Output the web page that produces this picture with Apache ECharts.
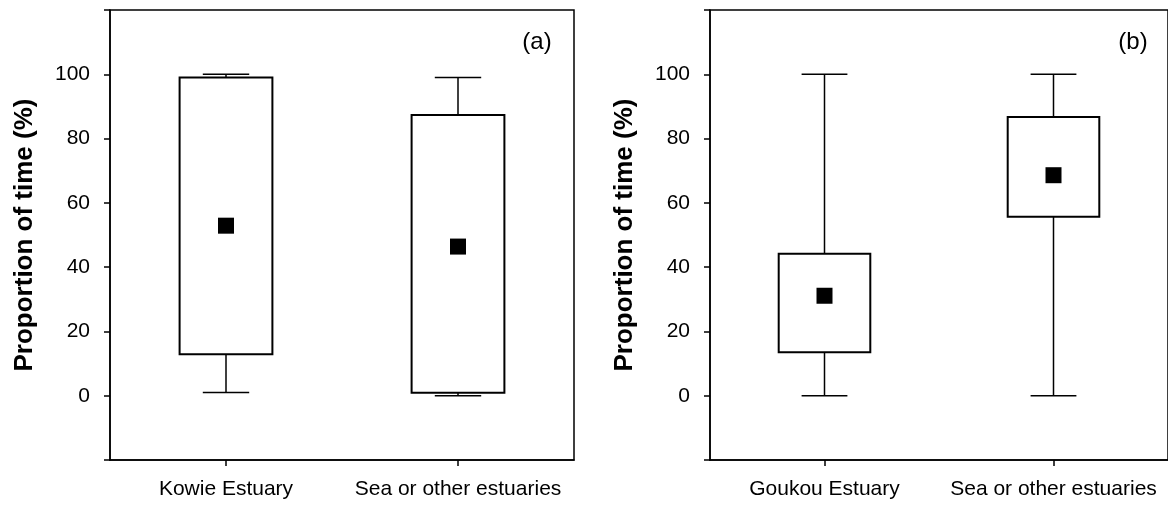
<!DOCTYPE html>
<html lang="en">
<head>
  <meta http-equiv="Content-Type" content="text/html; charset=UTF-8">
  <title>Proportion of time</title>
  <style>
    html, body { margin: 0; padding: 0; background: #fff; }
  </style>
</head>
<body>
  <div id="chart" style="width: 1168px; height: 505px;"></div>
  <script src="https://cdn.jsdelivr.net/npm/echarts@6/dist/echarts.min.js"></script>
  <script>
    const categoriesA = ['Kowie Estuary', 'Sea or other estuaries'];
    const categoriesB = ['Goukou Estuary', 'Sea or other estuaries'];
    // [whisker low, box low, box high, whisker high]
    const boxesA = [[1, 12.9, 99, 100], [0, 0.9, 87.3, 99]];
    const boxesB = [[0, 13.5, 44.2, 100], [0, 55.7, 86.7, 100]];
    const meansA = [52.9, 46.4];
    const meansB = [31.1, 68.6];
    const yTicks = [0, 20, 40, 60, 80, 100];

    const font = "'Liberation Sans', Arial, sans-serif";
    const myChart = echarts.init(document.getElementById('chart'));

    function renderBox(params, api) {
      const x = api.value(0);
      const low = api.coord([x, api.value(1)]);
      const q1 = api.coord([x, api.value(2)]);
      const q3 = api.coord([x, api.value(3)]);
      const high = api.coord([x, api.value(4)]);
      const band = api.size([1, 0])[0];
      const boxW = band * 0.4;
      const capW = band * 0.2;
      const cx = low[0];
      const thin = { stroke: '#000', lineWidth: 1.5 };
      return {
        type: 'group',
        children: [
          { type: 'line', shape: { x1: cx, y1: low[1], x2: cx, y2: high[1] }, style: thin },
          { type: 'line', shape: { x1: cx - capW / 2, y1: low[1], x2: cx + capW / 2, y2: low[1] }, style: thin },
          { type: 'line', shape: { x1: cx - capW / 2, y1: high[1], x2: cx + capW / 2, y2: high[1] }, style: thin },
          {
            type: 'rect',
            shape: { x: cx - boxW / 2, y: q3[1], width: boxW, height: q1[1] - q3[1] },
            style: { fill: '#fff', stroke: '#000', lineWidth: 2 }
          }
        ]
      };
    }

    function yAxis(gridIndex) {
      return {
        type: 'value',
        gridIndex: gridIndex,
        min: -20,
        max: 120,
        interval: 20,
        name: 'Proportion of time (%)',
        nameLocation: 'middle',
        nameRotate: 90,
        nameGap: 72,
        nameTextStyle: { fontFamily: font, fontSize: 26, fontWeight: 'bold', color: '#000' },
        axisLine: { show: true, onZero: false, lineStyle: { color: '#000', width: 1.5 } },
        axisTick: { show: true, length: 6, lineStyle: { color: '#000', width: 1.5 } },
        axisLabel: {
          margin: 20,
          fontFamily: font,
          fontSize: 21,
          color: '#000',
          formatter: (v) => (yTicks.indexOf(v) >= 0 ? String(v) : '')
        },
        splitLine: { show: false }
      };
    }

    function xAxis(gridIndex, cats) {
      return {
        type: 'category',
        gridIndex: gridIndex,
        data: cats,
        boundaryGap: true,
        axisLine: { show: true, onZero: false, lineStyle: { color: '#000', width: 1.5 } },
        axisTick: { show: true, alignWithLabel: true, length: 6, lineStyle: { color: '#000', width: 1.5 } },
        axisLabel: { margin: 19, fontFamily: font, fontSize: 21, color: '#000', interval: 0 },
        splitLine: { show: false }
      };
    }

    const option = {
      animation: false,
      backgroundColor: '#fff',
      grid: [
        { left: 110, top: 10, width: 464, height: 450, show: true, borderColor: '#000', borderWidth: 1.5, backgroundColor: 'transparent' },
        { left: 710, top: 10, width: 464, height: 450, show: true, borderColor: '#000', borderWidth: 1.5, backgroundColor: 'transparent' }
      ],
      xAxis: [xAxis(0, categoriesA), xAxis(1, categoriesB)],
      yAxis: [yAxis(0), yAxis(1)],
      graphic: [
        { type: 'text', x: 537, y: 42, style: { text: '(a)', font: '24px ' + font, fill: '#000', textAlign: 'center', textVerticalAlign: 'middle' } },
        { type: 'text', x: 1133, y: 42, style: { text: '(b)', font: '24px ' + font, fill: '#000', textAlign: 'center', textVerticalAlign: 'middle' } }
      ],
      series: [
        {
          type: 'custom',
          xAxisIndex: 0,
          yAxisIndex: 0,
          renderItem: renderBox,
          data: boxesA.map((b, i) => [i].concat(b))
        },
        {
          type: 'custom',
          xAxisIndex: 1,
          yAxisIndex: 1,
          renderItem: renderBox,
          data: boxesB.map((b, i) => [i].concat(b))
        },
        {
          type: 'scatter',
          xAxisIndex: 0,
          yAxisIndex: 0,
          symbol: 'rect',
          symbolSize: 16,
          itemStyle: { color: '#000', opacity: 1 },
          z: 5,
          data: meansA.map((m, i) => [i, m])
        },
        {
          type: 'scatter',
          xAxisIndex: 1,
          yAxisIndex: 1,
          symbol: 'rect',
          symbolSize: 16,
          itemStyle: { color: '#000', opacity: 1 },
          z: 5,
          data: meansB.map((m, i) => [i, m])
        }
      ]
    };
    myChart.setOption(option);
  </script>
</body>
</html>
